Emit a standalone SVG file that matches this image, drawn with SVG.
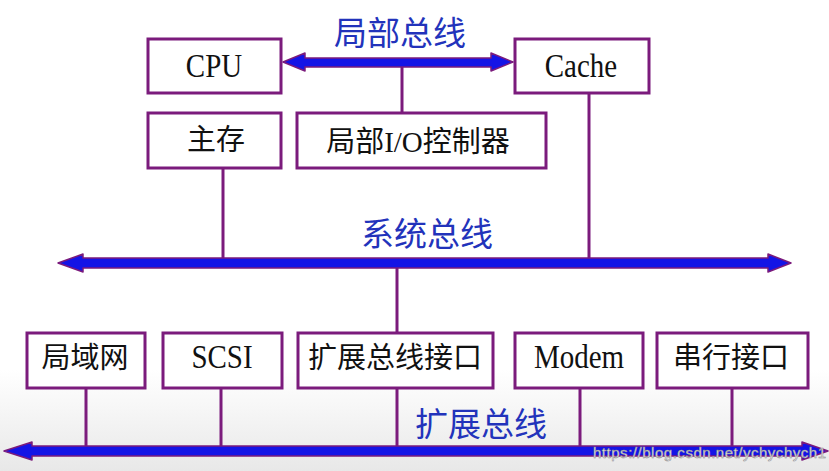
<svg xmlns="http://www.w3.org/2000/svg" width="829" height="471" viewBox="0 0 829 471">
<defs>
<linearGradient id="bg" x1="0" y1="0" x2="0" y2="1">
<stop offset="0" stop-color="#ffffff"/>
<stop offset="1" stop-color="#e8e8e8"/>
</linearGradient>
<style>
.box{fill:#ffffff;stroke:#7b1b7c;stroke-width:3}
.line{stroke:#7b1b7c;stroke-width:3;fill:none}
.bus{fill:#1414e6;stroke:#7b1b7c;stroke-width:1.5;stroke-linejoin:round}
.t{font-family:"Liberation Serif","Noto Sans CJK SC",serif;font-size:29px;fill:#111111;text-anchor:middle}
.bl{font-family:"Noto Sans CJK SC","Liberation Sans",sans-serif;font-size:33px;fill:#2233bb;text-anchor:middle}
.wm{font-family:"Liberation Sans",Arial,sans-serif;font-size:15px;fill:#eeeeee;stroke:#8a8a8a;stroke-width:0.5}
</style>
</defs>
<rect x="0" y="0" width="829" height="471" fill="#ffffff"/>
<rect x="0" y="370" width="829" height="101" fill="url(#bg)"/>

<g id="connectors">
<line class="line" x1="402" y1="62" x2="402" y2="113"/>
<line class="line" x1="223" y1="168" x2="223" y2="263"/>
<line class="line" x1="589" y1="93" x2="589" y2="263"/>
<line class="line" x1="397" y1="263" x2="397" y2="333"/>
<line class="line" x1="86" y1="388" x2="86" y2="451"/>
<line class="line" x1="221" y1="388" x2="221" y2="451"/>
<line class="line" x1="397" y1="388" x2="397" y2="451"/>
<line class="line" x1="580" y1="388" x2="580" y2="451"/>
<line class="line" x1="732" y1="388" x2="732" y2="451"/>
<polygon id="local-bus" class="bus" points="283,62 305,53 305,58 491,58 491,53 513,62 491,71 491,67 305,67 305,71"/>
<polygon id="system-bus" class="bus" points="58,263 83,254 83,258 768,258 768,254 791,263 768,272 768,268 83,268 83,272"/>
<polygon id="expansion-bus" class="bus" points="4,451 32,442 32,446 802,446 802,442 828,451 802,460 802,456 32,456 32,460"/>
<text class="bl" x="400" y="45">局部总线</text>
<text class="bl" x="427" y="246">系统总线</text>
<text class="bl" x="481" y="436">扩展总线</text>
</g>

<g id="cpu"><rect class="box" x="148" y="39" width="133" height="54"/><text class="t" transform="translate(214,77) scale(1,1.15)">CPU</text></g>
<g id="cache"><rect class="box" x="515" y="39" width="134" height="54"/><text class="t" transform="translate(581,77) scale(1,1.15)">Cache</text></g>
<g id="main-memory"><rect class="box" x="148" y="113" width="133" height="55"/><text class="t" x="216" y="150">主存</text></g>
<g id="local-io"><rect class="box" x="297" y="113" width="249" height="55"/><text class="t" x="418" y="152">局部I/O控制器</text></g>
<g id="lan"><rect class="box" x="27" y="333" width="118" height="55"/><text class="t" x="85" y="368">局域网</text></g>
<g id="scsi"><rect class="box" x="163" y="333" width="119" height="55"/><text class="t" transform="translate(222,368) scale(1,1.15)">SCSI</text></g>
<g id="ext-interface"><rect class="box" x="298" y="333" width="195" height="55"/><text class="t" x="395" y="368">扩展总线接口</text></g>
<g id="modem"><rect class="box" x="515" y="333" width="128" height="55"/><text class="t" transform="translate(579,368) scale(1,1.15)">Modem</text></g>
<g id="serial"><rect class="box" x="657" y="333" width="151" height="55"/><text class="t" x="731" y="368">串行接口</text></g>

<text class="wm" x="593" y="458" textLength="233">https://blog.csdn.net/ychychych1</text>
</svg>
